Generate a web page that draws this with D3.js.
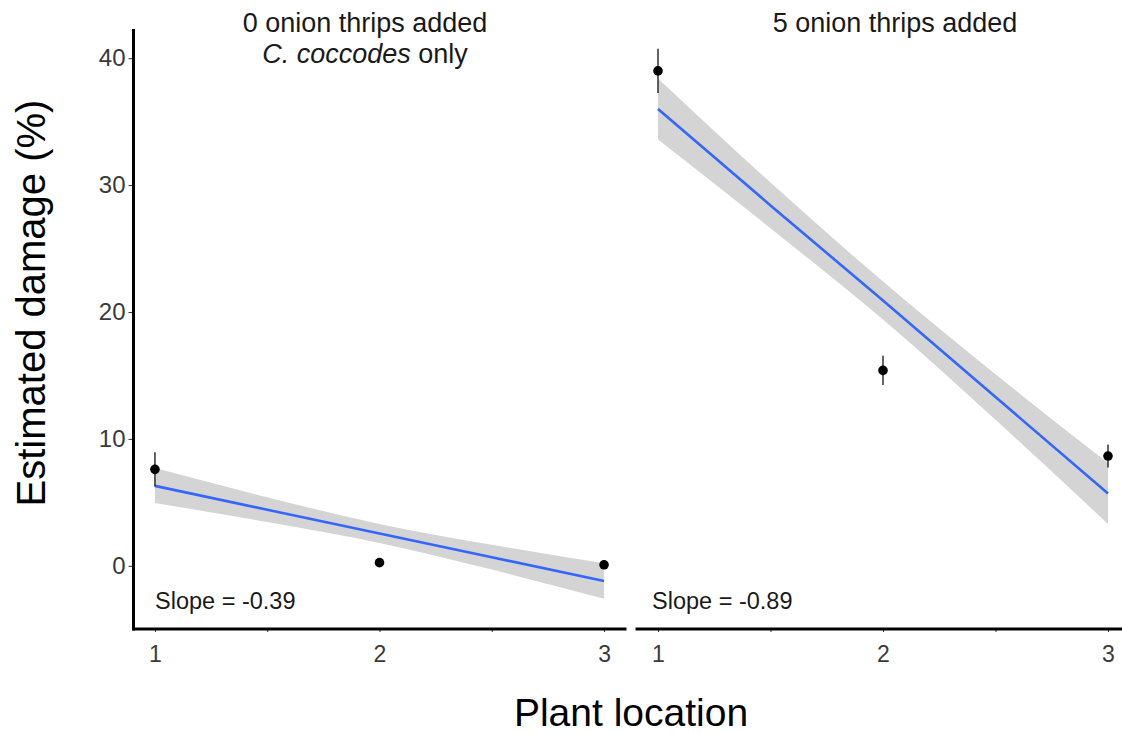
<!DOCTYPE html>
<html>
<head>
<meta charset="utf-8">
<script src="https://cdn.jsdelivr.net/npm/d3@7"></script>
<style>
  body { margin: 0; background: #fff; }
  svg { display: block; }
  text { font-family: "Liberation Sans", Arial, Helvetica, sans-serif; }
</style>
</head>
<body>
<svg id="chart" width="1122" height="733"></svg>
<script>
// Plant locations along the row
const locations = [1, 2, 3];

// Mean estimated damage (%) and standard error per location
const meanNoThrips = [7.6, 0.25, 0.08];
const seNoThrips = [1.35, 0, 0];
const meanFiveThrips = [39.0, 15.4, 8.65];
const seFiveThrips = [1.75, 1.15, 0.9];

// Fitted regression line with its confidence band
const fitX = [1, 1.5, 2, 2.5, 3];
const fitNoThrips = [6.3, 4.42, 2.55, 0.68, -1.2];
const lowerNoThrips = [4.95, 3.45, 1.8, -0.3, -2.6];
const upperNoThrips = [7.7, 5.4, 3.3, 1.66, 0.2];
const fitFiveThrips = [36.0, 28.4, 20.9, 13.3, 5.7];
const lowerFiveThrips = [33.6, 26.6, 19.4, 11.5, 3.3];
const upperFiveThrips = [38.4, 30.2, 22.4, 15.1, 8.1];

// Facet labels and slope annotations
const stripLine1 = ["0 onion thrips added", "5 onion thrips added"];
const slopeLabels = ["Slope = -0.39", "Slope = -0.89"];

// Axis ticks
const yTicks = [0, 10, 20, 30, 40];
const xTicks = [1, 1.5, 2, 2.5, 3];
const xTickLabels = ["1", "", "2", "", "3"];

const FONT = "'Liberation Sans', Arial, Helvetica, sans-serif";

const panels = [
  { mean: meanNoThrips, se: seNoThrips, fit: fitNoThrips, lo: lowerNoThrips, hi: upperNoThrips,
    range: [132.5, 626.5], stripX: 365, slopeX: 155 },
  { mean: meanFiveThrips, se: seFiveThrips, fit: fitFiveThrips, lo: lowerFiveThrips, hi: upperFiveThrips,
    range: [635.5, 1130.5], stripX: 895, slopeX: 652 }
];

const svg = d3.select("#chart");
const y = d3.scaleLinear().domain([-4.9, 42.3]).range([628, 29]);
const panelBottom = 628;

panels.forEach((p, i) => {
  const x = d3.scaleLinear().domain([0.9, 3.1]).range(p.range);
  const g = svg.append("g");

  const band = fitX.map((v, k) => ({ x: v, lo: p.lo[k], hi: p.hi[k], fit: p.fit[k] }));

  // confidence band
  g.append("path")
    .datum(band)
    .attr("fill", "#d4d4d4")
    .attr("d", d3.area().x(d => x(d.x)).y0(d => y(d.lo)).y1(d => y(d.hi)).curve(d3.curveMonotoneX));

  // regression line
  g.append("path")
    .datum(band)
    .attr("fill", "none")
    .attr("stroke", "#3366ff")
    .attr("stroke-width", 2.6)
    .attr("d", d3.line().x(d => x(d.x)).y(d => y(d.fit)));

  const pts = locations.map((loc, k) => ({ loc, m: p.mean[k], se: p.se[k] }));

  // error bars
  g.selectAll("line.err")
    .data(pts.filter(d => d.se > 0))
    .join("line")
    .attr("x1", d => x(d.loc)).attr("x2", d => x(d.loc))
    .attr("y1", d => y(d.m - d.se)).attr("y2", d => y(d.m + d.se))
    .attr("stroke", "#111").attr("stroke-width", 1.3);

  // mean points
  g.selectAll("circle")
    .data(pts)
    .join("circle")
    .attr("cx", d => x(d.loc)).attr("cy", d => y(d.m))
    .attr("r", 4.8)
    .attr("fill", "#000");

  // x axis
  const xAxis = d3.axisBottom(x)
    .tickValues(xTicks)
    .tickFormat((d, k) => xTickLabels[k])
    .tickSize(4)
    .tickPadding(14);
  const ax = g.append("g").attr("transform", `translate(0,${panelBottom})`).call(xAxis);
  ax.attr("font-size", null).attr("font-family", null);
  ax.select(".domain").remove();
  ax.selectAll(".tick line").attr("stroke", "#333").attr("stroke-width", 1);
  ax.selectAll(".tick text").attr("fill", "#3a3a3a")
    .style("font-size", "23px").style("font-family", FONT);
  g.append("line")
    .attr("x1", p.range[0]).attr("x2", p.range[1])
    .attr("y1", panelBottom + 1).attr("y2", panelBottom + 1)
    .attr("stroke", "#000").attr("stroke-width", 3);

  // slope annotation
  g.append("text")
    .attr("x", p.slopeX).attr("y", 609)
    .attr("fill", "#1a1a1a")
    .style("font-size", "23.5px")
    .text(slopeLabels[i]);

  // facet strip title
  g.append("text")
    .attr("x", p.stripX).attr("y", 32)
    .attr("text-anchor", "middle")
    .attr("fill", "#1a1a1a")
    .style("font-size", "27px")
    .text(stripLine1[i]);
  if (i === 0) {
    const second = g.append("text")
      .attr("x", p.stripX).attr("y", 63)
      .attr("text-anchor", "middle")
      .attr("fill", "#1a1a1a")
      .style("font-size", "27px");
    second.append("tspan").style("font-style", "italic").text("C. coccodes");
    second.append("tspan").text(" only");
  }
});

// y axis on the left panel
const yAxis = d3.axisLeft(y).tickValues(yTicks).tickSize(5).tickPadding(3);
const ay = svg.append("g").attr("transform", "translate(133.5,0)").call(yAxis);
ay.attr("font-size", null).attr("font-family", null);
ay.select(".domain").remove();
ay.selectAll(".tick line").attr("stroke", "#333").attr("stroke-width", 1);
ay.selectAll(".tick text").attr("fill", "#3a3a3a")
  .style("font-size", "24px").style("font-family", FONT);
svg.append("line")
  .attr("x1", 133.5).attr("x2", 133.5)
  .attr("y1", 29).attr("y2", panelBottom + 2.5)
  .attr("stroke", "#000").attr("stroke-width", 3);

// axis titles
svg.append("text")
  .attr("transform", "translate(45,303) rotate(-90)")
  .attr("text-anchor", "middle")
  .attr("fill", "#000")
  .style("font-size", "40px")
  .text("Estimated damage (%)");

svg.append("text")
  .attr("x", 631).attr("y", 726)
  .attr("text-anchor", "middle")
  .attr("fill", "#000")
  .style("font-size", "39px")
  .text("Plant location");
</script>
</body>
</html>
